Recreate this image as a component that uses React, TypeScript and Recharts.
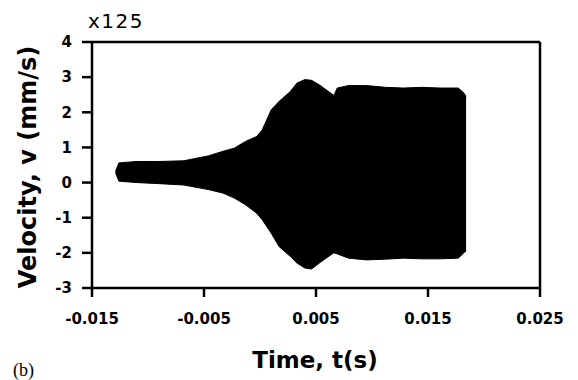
import { Area, AreaChart, ReferenceLine, XAxis, YAxis } from "recharts";

// envelope of the velocity signal
const times = [
  -0.0129, -0.0126, -0.011, -0.009, -0.0068, -0.0046, -0.0033, -0.0023, -0.0013, -0.0003,
  0.0002, 0.001, 0.0017, 0.0027, 0.0033, 0.004, 0.0046, 0.0053, 0.0059, 0.0066,
  0.0069, 0.0079, 0.0095, 0.0112, 0.0128, 0.0144, 0.0161, 0.0177, 0.0182, 0.0184,
];
const upper = [
  0.32, 0.56, 0.6, 0.6, 0.62, 0.76, 0.89, 0.98, 1.17, 1.31,
  1.5, 2.07, 2.31, 2.59, 2.83, 2.93, 2.91, 2.78, 2.64, 2.48,
  2.69, 2.76, 2.76, 2.71, 2.69, 2.71, 2.69, 2.69, 2.55, 2.45,
];
const lower = [
  0.28, 0.04, 0.0, -0.03, -0.07, -0.2, -0.3, -0.44, -0.63, -0.87,
  -1.06, -1.44, -1.82, -2.1, -2.29, -2.43, -2.46, -2.29, -2.15, -2.0,
  -2.03, -2.15, -2.2, -2.18, -2.15, -2.17, -2.17, -2.15, -2.0, -1.95,
];
const xTicks = [-0.015, -0.005, 0.005, 0.015, 0.025];
const yTicks = [-3, -2, -1, 0, 1, 2, 3, 4];

const data = times.map((t, i) => ({ t, range: [lower[i], upper[i]] }));

const tickStyle = { fontFamily: "DejaVu Sans", fontWeight: 700, fontSize: 15, fill: "#000" };
const titleFont = { fontFamily: "DejaVu Sans", fontWeight: 700, fill: "#000" };

export default function App() {
  return (
    <div style={{ position: "relative", width: 578, height: 380, background: "#fff" }}>
      <style>{"body{margin:0}"}</style>
      <AreaChart width={578} height={380} data={data} margin={{ top: 42, right: 38, bottom: 52, left: 0 }}>
        <XAxis
          dataKey="t"
          type="number"
          domain={[-0.015, 0.025]}
          ticks={xTicks}
          interval={0}
          height={40}
          tickSize={9}
          tickMargin={16}
          tick={tickStyle}
          axisLine={{ stroke: "#000", strokeWidth: 2.5 }}
          tickLine={{ stroke: "#000", strokeWidth: 2.5 }}
        />
        <YAxis
          type="number"
          domain={[-3, 4]}
          ticks={yTicks}
          interval={0}
          width={92}
          tickSize={10}
          tickMargin={10}
          tick={tickStyle}
          axisLine={{ stroke: "#000", strokeWidth: 2.5 }}
          tickLine={{ stroke: "#000", strokeWidth: 2.5 }}
        />
        <ReferenceLine y={4} stroke="#000" strokeWidth={2.5} />
        <ReferenceLine x={0.025} stroke="#000" strokeWidth={2.5} />
        <Area
          type="linear"
          dataKey="range"
          stroke="#000"
          strokeWidth={1}
          fill="#000"
          fillOpacity={1}
          isAnimationActive={false}
        />
      </AreaChart>
      <svg width={578} height={380} style={{ position: "absolute", left: 0, top: 0, pointerEvents: "none" }}>
        <text x={88} y={28} fontFamily="DejaVu Sans" fontSize={20} letterSpacing={1.5} fill="#000">
          x125
        </text>
        <text
          x={0}
          y={0}
          transform="translate(36,167) rotate(-90)"
          textAnchor="middle"
          fontSize={24}
          {...titleFont}
        >
          Velocity, v (mm/s)
        </text>
        <text x={315} y={368} textAnchor="middle" fontSize={23} {...titleFont}>
          Time, t(s)
        </text>
        <text x={13} y={376} fontFamily="Liberation Serif" fontSize={18} fill="#000">
          (b)
        </text>
      </svg>
    </div>
  );
}
